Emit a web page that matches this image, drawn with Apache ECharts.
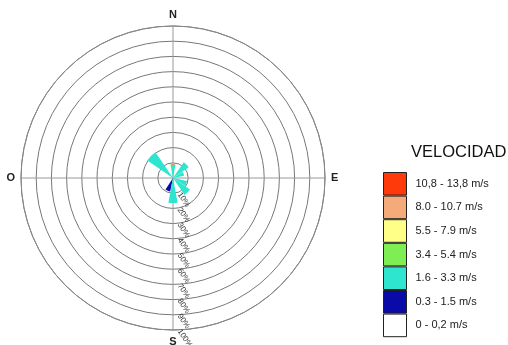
<!DOCTYPE html>
<html>
<head>
<meta charset="utf-8">
<script src="https://cdn.jsdelivr.net/npm/echarts@6/dist/echarts.min.js"></script>
<style>
  html, body { margin: 0; padding: 0; background: #fff; }
  #chart { width: 508px; height: 345px; }
</style>
</head>
<body>
<div id="chart"></div>
<script>
// Wind directions (16 sectors, clockwise from north)
const directions = ['N', 'NNE', 'NE', 'ENE', 'E', 'ESE', 'SE', 'SSE',
                    'S', 'SSW', 'SW', 'WSW', 'W', 'WNW', 'NW', 'NNW'];

// Frequency (%) per direction for each speed class
const calm   = [0, 0, 0, 0, 0, 0, 0, 0, 0, 0, 0, 0, 0, 0, 0, 0];
const speed1 = [0, 0, 0, 0, 0, 0, 0, 0, 0, 0.9, 0, 0, 0, 0, 0, 0];
const speed2 = [0.9, 0, 1.25, 0.75, 0, 0.95, 1.35, 0, 1.65, 0, 0, 0, 0, 0, 2.05, 0];
const speed3 = [0, 0, 0, 0, 0, 0, 0, 0, 0, 0, 0, 0, 0, 0, 0, 0];
const speed4 = [0, 0, 0, 0, 0, 0, 0, 0, 0, 0, 0, 0, 0, 0, 0, 0];
const speed5 = [0, 0, 0, 0, 0, 0, 0, 0, 0, 0, 0, 0, 0, 0, 0, 0];
const speed6 = [0, 0, 0, 0, 0, 0, 0, 0, 0, 0, 0, 0, 0, 0, 0, 0];

// Speed classes, from slowest to fastest
const classNames = ['0 - 0,2 m/s', '0.3 - 1.5 m/s', '1.6 - 3.3 m/s', '3.4 - 5.4 m/s',
                    '5.5 - 7.9 m/s', '8.0 - 10.7 m/s', '10,8 - 13,8 m/s'];
const classData = [calm, speed1, speed2, speed3, speed4, speed5, speed6];
const classColors = ['#ffffff', '#0a0aa8', '#2ee6d0', '#7fee55', '#ffff88', '#f5aa7a', '#ff3a0a'];

// Ring labels (percent) and compass labels
const ringTicks = [10, 20, 30, 40, 50, 60, 70, 80, 90, 100];
const compass = { 0: 'S', 90: 'O', 180: 'N', 270: 'E' };

const chart = echarts.init(document.getElementById('chart'), null, { renderer: 'canvas' });
const font = 'Arial, "Liberation Sans", sans-serif';

const series = classNames.map((name, i) => ({
  type: 'bar',
  name: name,
  coordinateSystem: 'polar',
  polarIndex: 1,
  stack: 'rose',
  data: classData[i],
  barCategoryGap: '5%',
  itemStyle: { color: classColors[i] },
  silent: true
}));

chart.setOption({
  animation: false,
  textStyle: { fontFamily: font },
  title: {
    text: 'VELOCIDAD',
    left: 411,
    top: 144,
    padding: 0,
    textStyle: { fontSize: 16.5, fontWeight: 'normal', color: '#111', fontFamily: font }
  },
  legend: {
    orient: 'vertical',
    left: 383,
    top: 172,
    padding: 0,
    itemGap: 0,
    itemWidth: 23,
    itemHeight: 22.6,
    icon: 'rect',
    data: classNames.slice().reverse(),
    selectedMode: false,
    itemStyle: { borderColor: '#222', borderWidth: 1 },
    textStyle: { fontSize: 11, color: '#222', padding: [0, 0, 0, 4], fontFamily: font }
  },
  polar: [
    { center: [173, 178], radius: [0, 152] },
    { center: [173, 178], radius: [0, 152] }
  ],
  angleAxis: [
    {
      polarIndex: 0,
      type: 'value',
      min: 0,
      max: 360,
      interval: 90,
      startAngle: 270,
      clockwise: true,
      axisLine: { show: true, lineStyle: { color: '#888', width: 1 } },
      axisTick: { show: false },
      splitLine: { show: true, lineStyle: { color: '#999', width: 1 } },
      axisLabel: {
        margin: 6,
        fontSize: 11,
        fontWeight: 'bold',
        color: '#222',
        formatter: v => compass[v] || ''
      }
    },
    {
      polarIndex: 1,
      type: 'category',
      data: directions,
      startAngle: 90 + 11.25,
      clockwise: true,
      axisLine: { show: false },
      axisTick: { show: false },
      axisLabel: { show: false },
      splitLine: { show: false }
    }
  ],
  radiusAxis: [
    {
      polarIndex: 0,
      type: 'value',
      min: 0,
      max: 100,
      interval: 10,
      axisLine: { show: false },
      axisTick: { show: false },
      splitLine: { show: true, lineStyle: { color: '#777', width: 1 } },
      axisLabel: {
        fontSize: 8,
        color: '#333',
        rotate: -55,
        margin: 6,
        align: 'left',
        verticalAlign: 'middle',
        formatter: v => (ringTicks.indexOf(v) >= 0 ? v + '%' : '')
      }
    },
    {
      polarIndex: 1,
      type: 'value',
      min: 0,
      max: 10,
      axisLine: { show: false },
      axisTick: { show: false },
      axisLabel: { show: false },
      splitLine: { show: false }
    }
  ],
  series: series
});
</script>
</body>
</html>
